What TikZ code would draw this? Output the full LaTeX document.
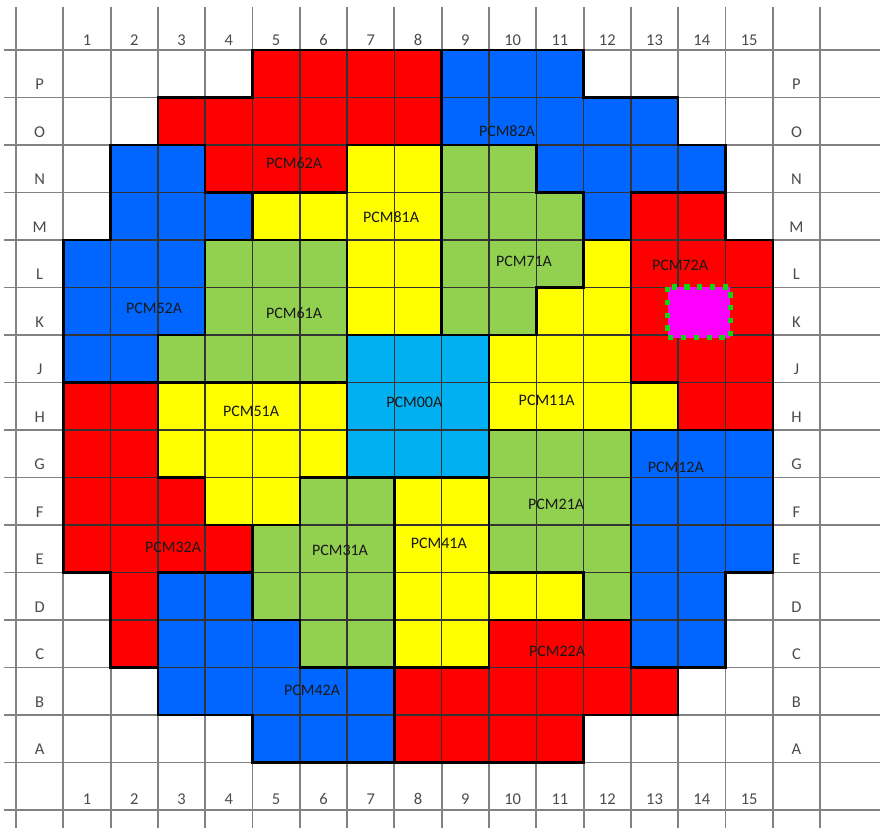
\documentclass[tikz,border=0pt]{standalone}
\usepackage{fontspec}
\setmainfont{Carlito}
\definecolor{cR}{RGB}{255,0,0}
\definecolor{cB}{RGB}{0,102,255}
\definecolor{cY}{RGB}{255,255,0}
\definecolor{cG}{RGB}{146,208,80}
\definecolor{cL}{RGB}{0,176,240}
\definecolor{cM}{RGB}{255,0,255}
\definecolor{cD}{RGB}{20,210,20}
\definecolor{gridgray}{RGB}{130,130,130}
\definecolor{axtext}{RGB}{75,75,75}
\newcommand\pcmgetcol[3]{\edef#1{\ifcsname cc-#2-#3\endcsname\csname cc-#2-#3\endcsname\else W\fi}}
\begin{document}
\begin{tikzpicture}[x=47.3pt,y=-47.5pt,
  gridline/.style={draw=gridgray,line width=1.9pt},
  cellbox/.style={draw=black!80,line width=1.5pt},
  regline/.style={draw=black,line width=2.5pt,line cap=rect},
  axl/.style={font=\fontsize{16.5}{18}\selectfont,text=axtext,inner sep=0pt},
  lbl/.style={font=\fontsize{16}{18}\selectfont,text=black!90,inner sep=0pt},
  magbox/.style={fill=cM,draw=none},
  dotrim/.style={draw=cD,line width=5.2pt,dash pattern=on 5.2pt off 7.6pt}]
\path[use as bounding box,fill=white] (-1.3383,-1.0526) rectangle (17.2664,16.3789);
% gray grid
\foreach \i in {-1,...,16} \draw[gridline] (\i,-0.905) -- (\i,16.3789);
\foreach \j in {0,...,16} \draw[gridline] (-1.254,\j) -- (17.2664,\j);
% coloured cells
\foreach \r/\a/\b/\k in {
 1/5/8/cR, 1/9/11/cB,
 2/3/8/cR, 2/9/13/cB,
 3/2/3/cB, 3/4/6/cR, 3/7/8/cY, 3/9/10/cG, 3/11/14/cB,
 4/2/4/cB, 4/5/8/cY, 4/9/11/cG, 4/12/12/cB, 4/13/14/cR,
 5/1/3/cB, 5/4/6/cG, 5/7/8/cY, 5/9/11/cG, 5/12/12/cY, 5/13/15/cR,
 6/1/3/cB, 6/4/6/cG, 6/7/8/cY, 6/9/10/cG, 6/11/12/cY, 6/13/15/cR,
 7/1/2/cB, 7/3/6/cG, 7/7/9/cL, 7/10/12/cY, 7/13/15/cR,
 8/1/2/cR, 8/3/6/cY, 8/7/9/cL, 8/10/13/cY, 8/14/15/cR,
 9/1/2/cR, 9/3/6/cY, 9/7/9/cL, 9/10/12/cG, 9/13/15/cB,
 10/1/3/cR, 10/4/5/cY, 10/6/7/cG, 10/8/9/cY, 10/10/12/cG, 10/13/15/cB,
 11/1/4/cR, 11/5/7/cG, 11/8/9/cY, 11/10/12/cG, 11/13/15/cB,
 12/2/2/cR, 12/3/4/cB, 12/5/7/cG, 12/8/11/cY, 12/12/12/cG, 12/13/14/cB,
 13/2/2/cR, 13/3/5/cB, 13/6/7/cG, 13/8/9/cY, 13/10/12/cR, 13/13/14/cB,
 14/3/7/cB, 14/8/13/cR,
 15/5/7/cB, 15/8/11/cR}
{
 \foreach \c in {\a,...,\b} {
  \filldraw[cellbox,fill=\k] (\c-1,\r-1) rectangle (\c,\r);
  \expandafter\xdef\csname cc-\r-\c\endcsname{\k}
 }
}
% region outlines where colours change
\foreach \r in {1,...,15} {
 \foreach \c in {0,...,15} {
  \pgfmathtruncatemacro\cn{\c+1}
  \pcmgetcol\ka{\r}{\c}\pcmgetcol\kb{\r}{\cn}
  \ifx\ka\kb\else \draw[regline] (\c,\r-1) -- (\c,\r); \fi
 }
}
\foreach \r in {0,...,15} {
 \foreach \c in {1,...,15} {
  \pgfmathtruncatemacro\rn{\r+1}
  \pcmgetcol\ka{\r}{\c}\pcmgetcol\kb{\rn}{\c}
  \ifx\ka\kb\else \draw[regline] (\c-1,\r) -- (\c,\r); \fi
 }
}
% axis labels
\foreach \c in {1,...,15} {
 \node[axl,anchor=base] (top\c) at (\c-0.5,-0.105) {\c};
 \node[axl,anchor=base] (bot\c) at (\c-0.5,15.89) {\c};
}
\foreach \r/\L in {1/P,2/O,3/N,4/M,5/L,6/K,7/J,8/H,9/G,10/F,11/E,12/D,13/C,14/B,15/A} {
 \node[axl,anchor=base] (left\L) at (-0.5,\r-0.16) {\L};
 \node[axl,anchor=base] (right\L) at (15.5,\r-0.16) {\L};
}
% region labels
\node[lbl] (p82) at (9.38,1.705) {PCM82A};
\node[lbl] (p62) at (4.88,2.38) {PCM62A};
\node[lbl] (p81) at (6.93,3.52) {PCM81A};
\node[lbl] (p71) at (9.74,4.44) {PCM71A};
\node[lbl] (p72) at (13.04,4.53) {PCM72A};
\node[lbl] (p52) at (1.92,5.43) {PCM52A};
\node[lbl] (p61) at (4.88,5.54) {PCM61A};
\node[lbl] (p51) at (3.97,7.6) {PCM51A};
\node[lbl] (p00) at (7.42,7.41) {PCM00A};
\node[lbl] (p11) at (10.22,7.37) {PCM11A};
\node[lbl] (p12) at (12.95,8.78) {PCM12A};
\node[lbl] (p21) at (10.42,9.56) {PCM21A};
\node[lbl] (p31) at (5.85,10.53) {PCM31A};
\node[lbl] (p41) at (7.94,10.38) {PCM41A};
\node[lbl] (p32) at (2.32,10.48) {PCM32A};
\node[lbl] (p22) at (10.44,12.65) {PCM22A};
\node[lbl] (p42) at (5.26,13.49) {PCM42A};
% marked cell
\fill[magbox] (12.78,4.99) rectangle (14.1,6.06);
\draw[dotrim] (12.78,4.99) rectangle (14.1,6.06);
\end{tikzpicture}
\end{document}
